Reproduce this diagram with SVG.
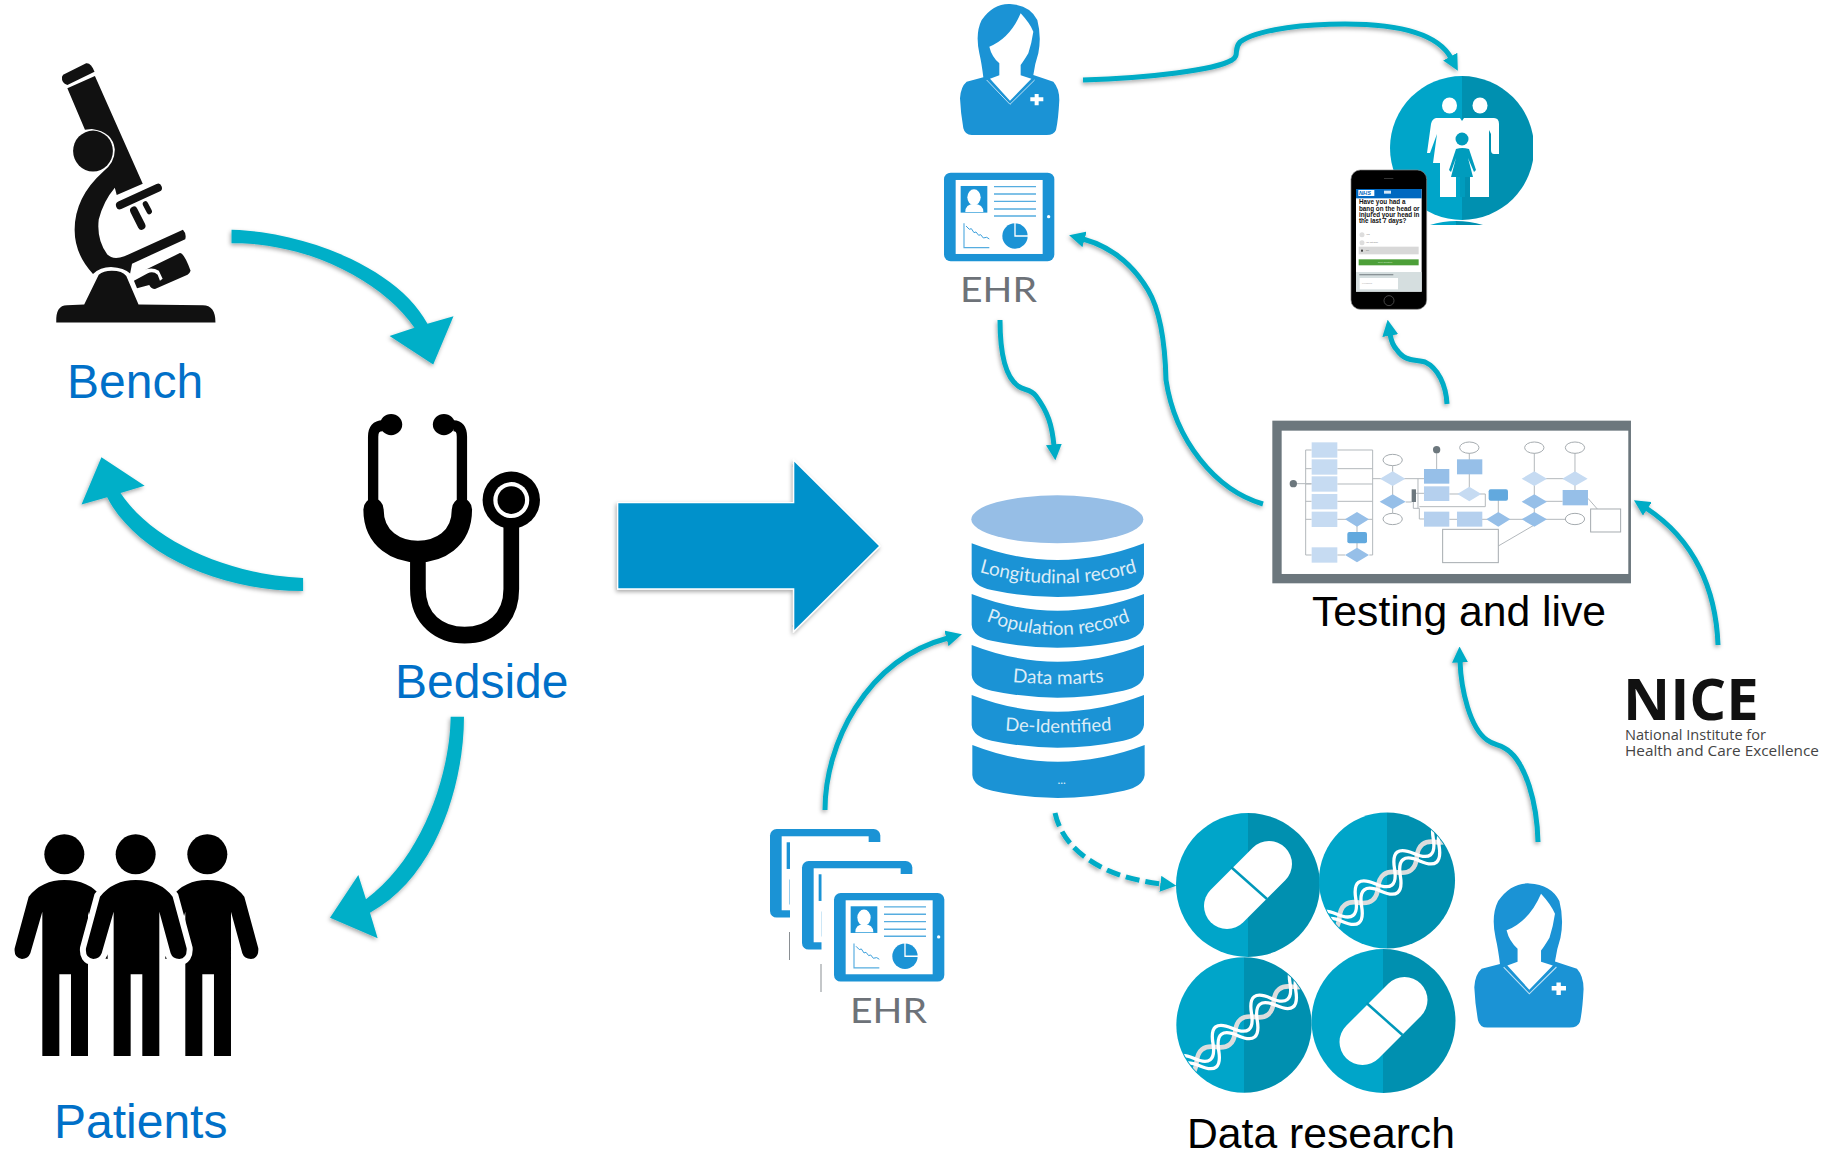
<svg xmlns="http://www.w3.org/2000/svg" xmlns:xlink="http://www.w3.org/1999/xlink" width="1829" height="1153" viewBox="0 0 1829 1153">
<style>
.lbl{font-family:"Liberation Sans",Arial,sans-serif;font-size:48px;fill:#0070C8}
.cap{font-family:"Liberation Sans",Arial,sans-serif;font-size:42.67px;fill:#000}
.ehr{font-family:Lato,"Open Sans",sans-serif;font-weight:400;font-size:34px;fill:#6d7278}
.db{font-family:Lato,"Open Sans",sans-serif;font-size:57px;fill:#dcecf7;text-anchor:middle}
.thick{fill:#01AFC8}
.thin{fill:none;stroke:#00ACC6;stroke-width:5}
.bk{fill:#111}
.bl{fill:#1B93D5}
.wl{fill:none;stroke:#b3b8bc;stroke-width:3}
.c1{fill:#C6DBF2}.c2{fill:#B5D0EE}.c3{fill:#96BFE8}.c4{fill:#62A9DE}
.oval{fill:#fff;stroke:#a5abaf;stroke-width:3}
.ph{font-family:"Liberation Sans",Arial,sans-serif;font-size:19px;font-weight:700;fill:#111}
.tiny{font-family:"Liberation Sans",Arial,sans-serif;font-size:7px;fill:#777}
</style>
<defs>
<filter id="sh" x="-20%" y="-20%" width="140%" height="140%"><feDropShadow dx="-1" dy="2" stdDeviation="2" flood-color="#000" flood-opacity=".35"/></filter>
<linearGradient id="split" x1="0" x2="1" y1="0" y2="0"><stop offset=".5" stop-color="#00A5C9"/><stop offset=".5" stop-color="#0090B0"/></linearGradient>
<marker id="ah" viewBox="0 0 10 10" refX="1" refY="5" markerWidth="3.2" markerHeight="3.2" orient="auto"><path d="M0,0 L10,5 L0,10 Z" fill="#00ACC6"/></marker>
<clipPath id="cd"><circle r="71"/></clipPath>
<clipPath id="famclip"><rect x="1380" y="60" width="153" height="170"/></clipPath>
<g id="pill">
<circle r="72" fill="url(#split)"/>
<path d="M-21,21 L21,-21" stroke="#fff" stroke-width="46" stroke-linecap="round"/>
<path d="M-17,-18 L19,14" stroke="#0098BA" stroke-width="2.5"/>
</g>
<g id="dna">
<circle r="72" fill="url(#split)"/>
<g clip-path="url(#cd)"><g transform="rotate(-38)" fill="none">
<path d="M-90,0 q13,14 26,0 t26,0 t26,0 t26,0 t26,0 t26,0 t26,0" stroke="#dcdcdc" stroke-width="5"/>
<path d="M-90,-5 q13,-24 26,0 t26,0 t26,0 t26,0 t26,0 t26,0 t26,0" stroke="#fff" stroke-width="3.500"/>
<path d="M-90,5 q13,-24 26,0 t26,0 t26,0 t26,0 t26,0 t26,0 t26,0" stroke="#fff" stroke-width="3.500"/>
</g></g>
</g>
<path id="man" d="M-107,290 Q-67,240 0,240 Q73,240 111,290 L153,445 Q155,475 131,477 Q111,477 105,460 L71,335 V768 H20 V523 H-15 V768 H-66 V335 L-102,460 Q-109,477 -127,477 Q-152,475 -149,445 Z"/>
<g id="nurse">
<path class="bl" d="M155,60 Q190,10 240,12 Q300,15 322,60 Q335,110 325,160 Q315,190 310,225 Q340,235 370,245 Q388,265 388,300 Q385,360 378,390 Q372,405 350,405 H125 Q105,405 100,385 Q92,340 90,295 Q92,260 110,245 L160,232 Q155,190 148,160 Q135,100 155,60 Z"/>
<path fill="#fff" d="M272,40 Q300,70 310,95 Q305,130 295,160 Q280,185 272,195 V226 L304,236 L240,302 L180,236 L208,226 V190 Q185,170 178,140 Q240,115 272,40Z"/>
<path d="M170,240 L240,313 L314,240" fill="none" stroke="#bfe0f4" stroke-width="3"/>
<path fill="#fff" d="M314,282 h12 v10 h14 v12 h-14 v12 h-12 v-12 h-13 v-12 h13 z"/>
</g>
<g id="tablet">
<rect class="bl" x="42" y="518" width="331" height="266" rx="20"/>
<rect fill="#fff" x="77" y="540" width="261" height="222"/>
<rect class="bl" x="92" y="558" width="80" height="80"/>
<ellipse cx="132" cy="592" rx="20" ry="24" fill="#fff"/>
<path fill="#fff" d="M106,636 Q106,612 132,612 Q160,612 160,636Z"/>
<path d="M192,560H318M192,582H318M192,604H318M192,627H318M192,648H318" fill="none" stroke="#56ade0" stroke-width="4"/>
<path d="M102,670V743H178" fill="none" stroke="#56ade0" stroke-width="3.500"/>
<path d="M108,678L118,688L124,686L132,698L138,696L146,706L152,704L160,714L170,712L178,717" fill="none" stroke="#3a9fdb" stroke-width="3"/>
<circle class="bl" cx="255" cy="708" r="38"/>
<path d="M255,668V708H295" fill="none" stroke="#fff" stroke-width="4"/>
<circle cx="356" cy="650" r="5" fill="#fff"/>
</g>
</defs>

<g id="node-bench">
<g transform="translate(0,40) scale(.3827,.4082)">
<path class="bk" d="M165,85 L225,57 Q238,55 247,78 L176,110 Q160,105 162,90 Z"/>
<path class="bk" d="M176,118 L248,88 L373,352 L305,380 L300,362 Q270,395 258,440 Q252,490 280,525 Q295,540 325,530 L478,465 Q488,475 484,488 L345,548 L340,572 Q325,558 290,556 Q262,556 243,573 Q195,525 195,465 Q195,385 270,322 Q300,300 300,268 Q295,225 240,218 L222,220 Z"/>
<ellipse class="bk" cx="243" cy="272" rx="52" ry="50"/>
<path class="bk" d="M147,692 Q145,650 175,650 L220,648 L258,575 Q270,565 292,565 Q320,565 330,578 L362,648 L530,650 Q563,650 563,692 Z"/>
<path class="bk" d="M375,565 L470,522 Q480,520 498,565 Q495,573 490,575 L405,610 Q395,610 390,600 L358,608 L350,590 L385,572 Q400,565 412,575 L418,590 L425,585 L415,565 Q395,555 375,565 Z"/>
<path d="M313,405 L413,362" stroke="#111" stroke-width="20" stroke-linecap="round"/>
<path d="M350,418 L370,455" stroke="#111" stroke-width="20" stroke-linecap="round"/>
<path d="M380,402 L390,420" stroke="#111" stroke-width="14" stroke-linecap="round"/>
</g>
<text class="lbl" x="67" y="398">Bench</text>
</g>

<g id="node-bedside">
<g transform="translate(0,40) scale(.3827,.4082)">
<g fill="none" stroke="#000">
<path stroke-width="27" d="M1000,945 Q975,945 975,972 V1140 M1185,945 Q1207,945 1207,972 V1140"/>
<path stroke-width="53" stroke-linecap="round" d="M976,1150 C976,1225 1040,1253 1092,1253 C1145,1253 1207,1225 1207,1150"/>
<path stroke-width="41" d="M1092,1260 V1345 C1092,1420 1150,1458 1214,1458 C1280,1458 1336,1420 1336,1345 V1180"/>
</g>
<ellipse cx="1022" cy="942" rx="29" ry="26"/><ellipse cx="1160" cy="942" rx="29" ry="26"/>
<ellipse cx="1336" cy="1127" rx="75" ry="70"/>
<ellipse cx="1336" cy="1127" rx="47" ry="44" fill="#fff"/>
<ellipse cx="1336" cy="1127" rx="36" ry="34"/>
</g>
<text class="lbl" x="395" y="698">Bedside</text>
</g>

<g id="node-patients">
<g transform="translate(0,800) scale(.3333)">
<use xlink:href="#man" href="#man" x="193"/><use xlink:href="#man" href="#man" x="622"/>
<use xlink:href="#man" href="#man" x="407" stroke="#fff" stroke-width="36" paint-order="stroke"/>
<circle cx="193" cy="163" r="60"/><circle cx="407" cy="163" r="60"/><circle cx="622" cy="163" r="60"/>
</g>
<text class="lbl" x="54" y="1138">Patients</text>
</g>

<g id="big-arrow" filter="url(#sh)">
<path transform="translate(600,440) scale(.3333)" fill="#0391CB" stroke="#fff" stroke-width="8" paint-order="stroke" d="M55,190 H583 V65 L837,318 L583,570 V445 H55 Z"/>
</g>

<g id="node-nurse-top"><use xlink:href="#nurse" href="#nurse" transform="translate(930,0) scale(.3333)"/></g>

<g id="node-ehr-top">
<use xlink:href="#tablet" href="#tablet" transform="translate(930,0) scale(.3333)"/>
<text class="ehr" x="960" y="302" textLength="77" lengthAdjust="spacingAndGlyphs">EHR</text>
</g>

<g id="node-ehr-stack">
<use xlink:href="#tablet" href="#tablet" transform="translate(756,656.3) scale(.3333)"/>
<rect x="790" y="842" width="150" height="130" fill="#fff"/>
<rect x="789" y="932" width="1" height="28" fill="#8a8f93"/>
<use xlink:href="#tablet" href="#tablet" transform="translate(788,688.3) scale(.3333)"/>
<rect x="821.5" y="874" width="130" height="122" fill="#fff"/>
<rect x="820.5" y="964" width="1" height="28" fill="#8a8f93"/>
<use xlink:href="#tablet" href="#tablet" transform="translate(820,720.3) scale(.3333)"/>
<text class="ehr" x="850" y="1023" textLength="77" lengthAdjust="spacingAndGlyphs">EHR</text>
</g>

<g id="node-database" transform="translate(950,480) scale(.3333)">
<ellipse cx="322" cy="118" rx="258" ry="72" fill="#96BEE6"/>
<path class="bl" d="M65,190 Q322,290 582,190 V282 Q578,318 520,330 Q322,372 125,330 Q68,318 65,282 Z"/>
<path class="bl" d="M65,342 Q322,442 582,342 V434 Q578,470 520,482 Q322,524 125,482 Q68,470 65,434 Z"/>
<path class="bl" d="M65,495 Q322,595 582,495 V585 Q578,620 520,632 Q322,674 125,632 Q68,620 65,585 Z"/>
<path class="bl" d="M65,645 Q322,745 582,645 V735 Q578,770 520,782 Q322,824 125,782 Q68,770 65,735 Z"/>
<path class="bl" d="M67,795 Q322,895 584,795 V885 Q580,920 522,932 Q322,976 127,932 Q70,920 67,885 Z"/>
<path id="t1" d="M75,272 Q325,348 575,272" fill="none"/>
<path id="t2" d="M95,418 Q325,512 555,418" fill="none"/>
<path id="t3" d="M180,605 Q325,620 470,605" fill="none"/>
<path id="t4" d="M150,750 Q325,765 500,750" fill="none"/>
<text class="db"><textPath xlink:href="#t1" href="#t1" startOffset="50%">Longitudinal record</textPath></text>
<text class="db"><textPath xlink:href="#t2" href="#t2" startOffset="50%">Population record</textPath></text>
<text class="db"><textPath xlink:href="#t3" href="#t3" startOffset="50%">Data marts</textPath></text>
<text class="db" style="font-size:55px"><textPath xlink:href="#t4" href="#t4" startOffset="50%">De-Identified</textPath></text>
<text class="db" x="335" y="912" style="font-size:36px">...</text>
</g>

<g id="node-family">
<g clip-path="url(#famclip)">
<circle cx="1462" cy="148" r="72" fill="url(#split)"/>
<path d="M1430,225 Q1456,217 1483,225Z" fill="url(#split)"/>
</g>
<ellipse cx="1449.500" cy="105.500" rx="7.500" ry="8" fill="#fff"/><ellipse cx="1480" cy="105.500" rx="7.500" ry="8" fill="#fff"/>
<path fill="#fff" d="M1436,118 H1460 L1462,121 L1464,118 H1494 Q1499,118 1499,124 V154 H1494 Q1491,154 1491,150 V134 L1489,130 V197 H1470 V170 H1456 V197 H1440 V163 H1433 L1437,134 L1430,153 H1427 L1431,124 Q1432,119 1436,118 Z"/>
<circle cx="1462" cy="139" r="6.500" fill="#009CBD"/>
<path fill="#009CBD" d="M1456,149 Q1462,147 1469,149 L1476,170 L1474,172 L1468,158 L1473,177 H1465 V197 H1460 V177 H1451 L1456,158 L1451,172 L1449,170 Z"/>
</g>

<g id="node-phone" transform="translate(1340,150) scale(.3333)">
<rect x="33" y="60" width="227" height="418" rx="28" fill="#000" stroke="#888" stroke-width="2"/>
<rect x="48" y="117" width="197" height="308" fill="#fff"/>
<rect x="48" y="117" width="197" height="28" fill="#0068C0"/>
<rect x="55" y="120" width="48" height="18" fill="#fff"/>
<text x="57" y="135" style="font-family:'Liberation Sans',sans-serif;font-size:17px;font-weight:700;font-style:italic;fill:#0068C0">NHS</text>
<rect x="132" y="122" width="21" height="9" fill="#d4e6f5"/>
<text class="ph" x="57" y="163">Have you had a</text>
<text class="ph" x="57" y="182">bang on the head or</text>
<text class="ph" x="57" y="201">injured your head in</text>
<text class="ph" x="57" y="220">the last 7 days?</text>
<circle cx="66" cy="254" r="7.500" fill="#ddd"/><circle cx="66" cy="278" r="7.500" fill="#ddd"/>
<text class="tiny" x="78" y="256">Yes</text><text class="tiny" x="78" y="280">I'm not sure</text>
<rect x="56" y="290" width="180" height="23" fill="#d8d8d8"/>
<rect x="63" y="299" width="6" height="6" fill="#444"/>
<text class="tiny" x="78" y="304">No</text>
<rect x="56" y="328" width="180" height="18" fill="#4C9F38"/>
<text class="tiny" x="114" y="340" style="fill:#cfe8c8">Next question</text>
<rect x="48" y="366" width="197" height="59" fill="#D5DEDF"/>
<rect x="58" y="372" width="102" height="4" fill="#8a9396"/>
<rect x="59" y="384" width="115" height="34" fill="#fff"/>
<text class="tiny" x="66" y="401" style="fill:#aaa">Feedback</text>
<rect x="132" y="84" width="28" height="3" fill="#333"/>
<circle cx="147" cy="452" r="15" fill="none" stroke="#666" stroke-width="2"/>
</g>

<g id="node-workflow" transform="translate(1260,410) scale(.3333)">
<rect x="37" y="32" width="1076" height="488" fill="#6C777D"/>
<rect x="65" y="62" width="1040" height="430" fill="#fff"/>
<path class="wl" d="M155,120H137V435H155M137,176H155M137,222H155M137,274H155M137,328H155M232,120H338V435H328M232,176H338M232,222H338M232,274H338M232,328H338M291,328V435M232,435H255M100,221H155M338,206H398M398,150V327M398,206H492M437,276H455M468,250H492M474,206V295M460,276V295H478V327H492M478,290H676V252H660M530,119V177M628,113V252M568,252H628M715,252V328M568,328H715M823,113V328M715,328H823M823,206H945M945,113V263M823,274H908M823,328H945M984,265L1012,297M715,408L823,345"/>
<rect class="c1" x="155" y="97" width="77" height="46"/><rect class="c1" x="155" y="148" width="77" height="46"/><rect class="c1" x="155" y="199" width="77" height="46"/><rect class="c1" x="155" y="252" width="77" height="46"/><rect class="c1" x="155" y="305" width="77" height="46"/><rect class="c1" x="155" y="412" width="77" height="46"/>
<circle cx="100" cy="221" r="11" fill="#6C777D"/><circle cx="530" cy="119" r="11" fill="#6C777D"/>
<path class="c3" d="M255,328L291,306L327,328L291,350Z M255,435L291,413L327,435L291,457Z M359,275L398,253L437,275L398,297Z M679,328L715,306L751,328L715,350Z M785,275L823,253L861,275L823,297Z M785,328L823,306L861,328L823,350Z"/>
<path class="c1" d="M360,206L398,184L436,206L398,228Z M592,252L628,230L664,252L628,274Z M785,206L823,184L861,206L823,228Z M907,206L945,184L983,206L945,228Z"/>
<rect class="c4" x="262" y="366" width="59" height="34" rx="6"/><rect class="c4" x="686" y="238" width="58" height="34" rx="6"/>
<ellipse class="oval" cx="398" cy="150" rx="29" ry="17"/><ellipse class="oval" cx="398" cy="327" rx="29" ry="17"/><ellipse class="oval" cx="628" cy="113" rx="29" ry="17"/><ellipse class="oval" cx="823" cy="113" rx="29" ry="17"/><ellipse class="oval" cx="945" cy="113" rx="29" ry="17"/><ellipse class="oval" cx="945" cy="327" rx="29" ry="17"/>
<rect x="455" y="238" width="13" height="38" fill="#6C777D"/>
<rect class="c3" x="492" y="177" width="76" height="44"/><rect class="c2" x="492" y="229" width="76" height="44"/><rect class="c2" x="492" y="305" width="76" height="45"/><rect class="c3" x="591" y="148" width="76" height="45"/><rect class="c2" x="591" y="305" width="76" height="45"/><rect class="c3" x="908" y="240" width="76" height="46"/>
<rect class="oval" x="992" y="297" width="90" height="69"/><rect class="oval" x="548" y="358" width="167" height="100"/>
</g>
<text id="label-testing" class="cap" x="1312" y="626">Testing and live</text>

<g id="node-nice">
<text x="1623" y="720" style="font-family:'Open Sans',sans-serif;font-weight:700;font-size:58px;fill:#111">NICE</text>
<text x="1625" y="740" textLength="141" lengthAdjust="spacingAndGlyphs" style="font-family:'Open Sans',sans-serif;font-size:15px;fill:#444">National Institute for</text>
<text x="1625" y="756" textLength="194" lengthAdjust="spacingAndGlyphs" style="font-family:'Open Sans',sans-serif;font-size:15px;fill:#444">Health and Care Excellence</text>
</g>

<g id="node-data-research">
<use xlink:href="#pill" href="#pill" transform="translate(1248,885)"/>
<use xlink:href="#dna" href="#dna" transform="translate(1387,880.500) scale(.945)"/>
<use xlink:href="#dna" href="#dna" transform="translate(1244,1025) scale(.94)"/>
<use xlink:href="#pill" href="#pill" transform="translate(1383.500,1021)"/>
<text class="cap" x="1187" y="1148">Data research</text>
</g>

<g id="node-nurse-bottom"><use xlink:href="#nurse" href="#nurse" transform="translate(1441.3,879) scale(.3667)"/></g>

<g id="connectors">
<g filter="url(#sh)"><path class="thick" transform="translate(0,40) scale(.3827,.4082)" d="M605,465 C800,470 1040,560 1117,695 L1185,677 L1132,795 L1018,725 L1083,705 C1000,590 800,495 605,498 Z"/></g>
<g filter="url(#sh)"><path class="thick" transform="translate(0,40) scale(.3827,.4082)" d="M792,1318 C600,1310 400,1230 315,1110 L378,1092 L265,1022 L213,1138 L280,1120 C350,1250 560,1350 792,1350 Z"/></g>
<g filter="url(#sh)"><path class="thick" transform="translate(300,640) scale(.3333)" d="M452,230 C450,400 370,650 198,778 L175,705 L90,833 L233,895 L210,818 C410,710 492,430 492,230 Z"/></g>
<g filter="url(#sh)" id="thin-arrows">
<path class="thin" marker-end="url(#ah)" d="M1083,80 C1150,78 1215,70 1232,60 C1240,55 1233,50 1240,42 C1260,28 1310,24 1345,24 C1395,24 1437,32 1451,58"/>
<path class="thin" marker-end="url(#ah)" d="M1000,320 C1000,345 1003,375 1018,386 C1024,391 1030,388 1036,396 C1048,412 1052,425 1054,446"/>
<path class="thin" marker-end="url(#ah)" d="M1263,504 C1215,490 1175,440 1166,380 C1165,340 1160,310 1148,290 C1130,260 1105,245 1083,239"/>
<path class="thin" marker-end="url(#ah)" d="M1447,404 C1446,385 1438,368 1425,362 C1415,359 1405,362 1397,350 C1392,345 1391,340 1390,334"/>
<path class="thin" marker-end="url(#ah)" d="M1718,645 C1716,590 1695,540 1646,508"/>
<path class="thin" marker-end="url(#ah)" d="M1538,842 C1537,800 1525,765 1510,752 C1502,744 1495,746 1487,740 C1470,728 1461,690 1460,661"/>
<path class="thin" marker-end="url(#ah)" d="M825,810 C825,745 865,660 948,638"/>
<path class="thin" marker-end="url(#ah)" stroke-dasharray="14 6" d="M1055,813 C1060,835 1075,855 1107,870 C1125,878 1145,882 1162,884"/>
</g>
</g>
</svg>
